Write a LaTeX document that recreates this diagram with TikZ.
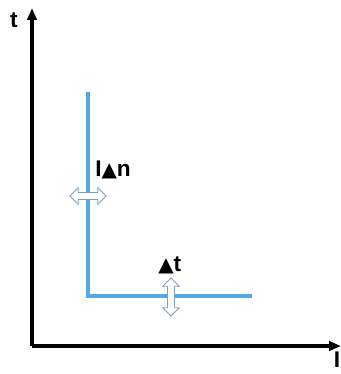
\documentclass[tikz,border=0pt]{standalone}
\usepackage{fontspec}
\setmainfont{Liberation Sans}
\newfontfamily\symfont{DejaVu Sans}
\usetikzlibrary{shapes.arrows,arrows.meta}
\definecolor{lineblue}{RGB}{86,168,226}
\definecolor{arrowedge}{RGB}{120,160,200}
\newcommand{\tri}{{\symfont\fontsize{15pt}{15pt}\selectfont ▲}}
\tikzset{
  axis/.style={line width=2.4pt,-{Triangle[length=9pt,width=7pt]}},
  curve/.style={line width=2.6pt,lineblue},
  dbl/.style={double arrow,draw=arrowedge,fill=white,line width=0.6pt,
    double arrow head extend=3.6pt,inner sep=2.3pt,minimum height=#1,
    double arrow head indent=0pt},
  lab/.style={font=\bfseries\fontsize{17pt}{17pt}\selectfont,inner sep=0pt}
}
\begin{document}
\begin{tikzpicture}[x=0.75pt,y=-0.75pt]
\useasboundingbox (0,0) rectangle (341,374);
\coordinate (O) at (32,346);
\coordinate (Ytop) at (32,8);
\coordinate (Xend) at (341,346);
\draw[axis] (O) -- (Ytop);
\draw[axis] (O) -- (Xend);
\node[lab] (tl) at (14,20) {t};
\node[lab,anchor=north] (il) at (337,352) {I};
\coordinate (A) at (88,92);
\coordinate (B) at (88,296);
\coordinate (C) at (252,296);
\draw[curve] (A) -- (B) -- (C);
\node[dbl=36*0.75pt] (h) at (88,196) {};
\node[dbl=38*0.75pt,rotate=90] (v) at (171,297) {};
\node[lab,anchor=west] (in) at (95,170) {I\tri n};
\node[lab,anchor=west] (dt) at (158,265) {\tri t};
\end{tikzpicture}
\end{document}
